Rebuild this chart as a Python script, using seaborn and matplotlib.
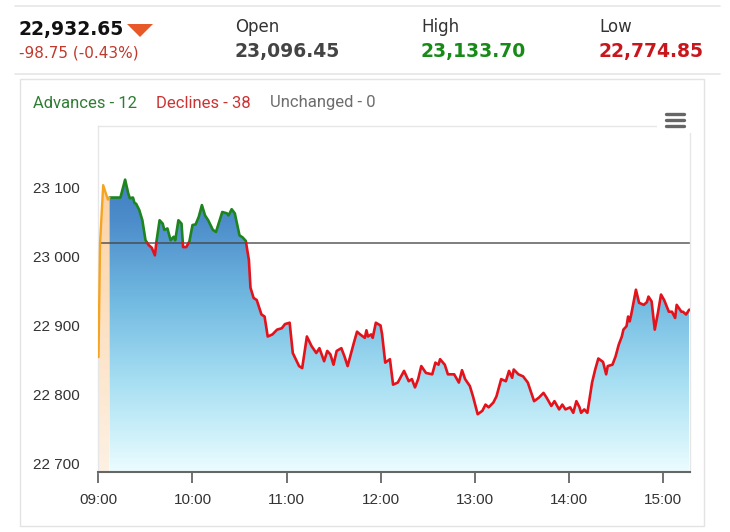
import numpy as np
import pandas as pd
import matplotlib.pyplot as plt
import seaborn as sns
from matplotlib.colors import LinearSegmentedColormap
from matplotlib.patches import Rectangle, Polygon
from matplotlib.lines import Line2D

# Cabecera
last_value = "22,932.65"
change_text = "-98.75 (-0.43%)"
stat_names = ["Open", "High", "Low"]
stat_values = ["23,096.45", "23,133.70", "22,774.85"]
breadth_labels = ["Advances - 12", "Declines - 38", "Unchanged - 0"]

prev_close = 23020

# Pre-apertura
preopen_times = ["09:00", "09:01", "09:03", "09:06", "09:07"]
preopen_values = [22854, 23020, 23104, 23083, 23086]

# Sesión
times = [
    "09:07", "09:14", "09:17", "09:19", "09:20", "09:22", "09:23", "09:24", "09:26", "09:28",
    "09:30", "09:32", "09:34", "09:36", "09:37", "09:39", "09:41", "09:42", "09:44", "09:46",
    "09:48", "09:49", "09:51", "09:53", "09:54", "09:56", "09:58", "10:00", "10:02", "10:04",
    "10:06", "10:08", "10:10", "10:13", "10:15", "10:19", "10:22", "10:23", "10:25", "10:27",
    "10:30", "10:32", "10:34", "10:36", "10:37", "10:39", "10:41", "10:44", "10:46", "10:48",
    "10:51", "10:54", "10:57", "10:59", "11:02", "11:04", "11:08", "11:10", "11:13", "11:16",
    "11:19", "11:21", "11:24", "11:26", "11:28", "11:30", "11:32", "11:35", "11:37", "11:39",
    "11:43", "11:45", "11:47", "11:50", "11:51", "11:52", "11:54", "11:55", "11:57", "12:00",
    "12:01", "12:03", "12:06", "12:08", "12:11", "12:15", "12:18", "12:20", "12:22", "12:24",
    "12:26", "12:29", "12:33", "12:35", "12:37", "12:38", "12:41", "12:43", "12:47", "12:50",
    "12:52", "12:54", "12:57", "12:59", "13:02", "13:05", "13:07", "13:09", "13:12", "13:14",
    "13:17", "13:20", "13:22", "13:24", "13:25", "13:28", "13:31", "13:34", "13:38", "13:41",
    "13:44", "13:46", "13:49", "13:51", "13:54", "13:56", "13:58", "14:01", "14:03", "14:05",
    "14:07", "14:08", "14:10", "14:12", "14:15", "14:17", "14:19", "14:22", "14:24", "14:25",
    "14:28", "14:30", "14:32", "14:34", "14:35", "14:37", "14:38", "14:39", "14:40", "14:43",
    "14:45", "14:48", "14:50", "14:51", "14:53", "14:55", "14:57", "14:59", "15:01", "15:04",
    "15:06", "15:08", "15:09", "15:12", "15:13", "15:15", "15:17",
]
values = [
    23086, 23086, 23112, 23092, 23085, 23086, 23078, 23077, 23068, 23053,
    23024, 23017, 23013, 23002, 23022, 23053, 23048, 23039, 23041, 23024,
    23029, 23024, 23053, 23048, 23014, 23014, 23022, 23046, 23047, 23058,
    23075, 23060, 23053, 23039, 23036, 23065, 23063, 23060, 23069, 23063,
    23031, 23028, 23023, 22995, 22955, 22940, 22937, 22916, 22913, 22884,
    22887, 22894, 22896, 22902, 22904, 22860, 22841, 22838, 22884, 22870,
    22860, 22867, 22848, 22863, 22858, 22843, 22863, 22867, 22855, 22841,
    22875, 22891, 22887, 22882, 22893, 22884, 22887, 22882, 22904, 22900,
    22887, 22846, 22851, 22814, 22817, 22834, 22819, 22822, 22810, 22822,
    22841, 22831, 22829, 22846, 22843, 22851, 22843, 22829, 22829, 22817,
    22835, 22822, 22812, 22797, 22771, 22776, 22785, 22781, 22788, 22797,
    22822, 22819, 22834, 22824, 22836, 22829, 22826, 22817, 22790, 22795,
    22802, 22795, 22783, 22790, 22778, 22785, 22778, 22781, 22773, 22790,
    22781, 22773, 22778, 22773, 22817, 22836, 22852, 22847, 22829, 22841,
    22843, 22855, 22872, 22884, 22894, 22899, 22913, 22906, 22916, 22952,
    22933, 22930, 22934, 22942, 22935, 22894, 22918, 22945, 22937, 22920,
    22920, 22911, 22930, 22920, 22920, 22916, 22923,
]

xtick_labels = ["09:00", "10:00", "11:00", "12:00", "13:00", "14:00", "15:00"]
ytick_values = [22700, 22800, 22900, 23000, 23100]
ytick_labels = ["22 700", "22 800", "22 900", "23 000", "23 100"]

W, H = 730, 532
GREEN, RED, ORANGE = "#1e841e", "#e3121b", "#f5a422"


def to_min(s):
    h, m = s.split(":")
    return (int(h) - 9) * 60 + int(m)


def fx(x):
    return x / W


def fy(y):
    return 1 - y / H


def gradient_fill(ax, x, y, y0, colors, vmin, vmax):
    poly = ax.fill_between(x, y, y0, facecolor="none", edgecolor="none")
    cmap = LinearSegmentedColormap.from_list("g", colors)
    grad = np.linspace(0, 1, 256).reshape(-1, 1)
    im = ax.imshow(grad, extent=[min(x), max(x), vmin, vmax], origin="lower",
                   aspect="auto", cmap=cmap, zorder=1, interpolation="bilinear")
    im.set_clip_path(poly.get_paths()[0], transform=ax.transData)


sns.set_style("white")
plt.rcParams["font.family"] = ["Liberation Sans", "DejaVu Sans"]

fig = plt.figure(figsize=(W / 100, H / 100), dpi=100)
ax = fig.add_axes([fx(97.7), fy(472), fx(690) - fx(97.7), fy(126) - fy(472)])

xmin, xmax = -0.5, 377.5
ymin, ymax = 22687, 23190

t = np.array([to_min(s) for s in times], float)
v = np.array(values, float)
pt = np.array([to_min(s) for s in preopen_times], float)
pv = np.array(preopen_values, float)

# Rellenos con degradado
gradient_fill(ax, pt, pv, ymin, [(0, "#fdf1e4"), (1, "#fcd2a3")], ymin, 23110)
gradient_fill(ax, t, v, ymin,
              [(0, "#ecfcfe"), (0.10, "#d4f3fb"), (0.31, "#a6def2"),
               (0.58, "#72bae1"), (0.85, "#4d8dcb"), (1, "#3f7fc2")],
              ymin, 23115)

# Línea de cierre anterior
ax.axhline(prev_close, color="#444444", alpha=0.75, lw=1.3, zorder=2)

# Línea verde / roja según cierre anterior
tt, vv = [t[0]], [v[0]]
for i in range(1, len(t)):
    a, b = v[i - 1] - prev_close, v[i] - prev_close
    if a * b < 0:
        f = a / (a - b)
        tt.append(t[i - 1] + f * (t[i] - t[i - 1]))
        vv.append(prev_close)
    tt.append(t[i])
    vv.append(v[i])
line_df = pd.DataFrame({"t": tt, "v": vv})

for up, color in [(True, GREEN), (False, RED)]:
    mask = line_df["v"] >= prev_close if up else line_df["v"] <= prev_close
    seg = (mask != mask.shift()).cumsum()
    sub = line_df[mask].assign(seg=seg[mask])
    sns.lineplot(data=sub, x="t", y="v", units="seg", estimator=None, sort=False,
                 color=color, lw=1.9, ax=ax, legend=False, zorder=3,
                 solid_joinstyle="round", solid_capstyle="round")

sns.lineplot(x=pt, y=pv, color=ORANGE, lw=1.7, ax=ax, sort=False, zorder=3,
             solid_joinstyle="round")

ax.set_xlim(xmin, xmax)
ax.set_ylim(ymin, ymax)
ax.set_xlabel("")
ax.set_ylabel("")
ax.set_xticks([to_min(s) for s in xtick_labels])
ax.set_xticklabels(xtick_labels)
ax.set_yticks(ytick_values)
ax.set_yticklabels(ytick_labels)
ax.tick_params(axis="x", length=8, width=1.3, color="#666666", pad=7,
               labelsize=11, labelcolor="#333333", bottom=True)
ax.tick_params(axis="y", length=0, pad=13, labelsize=11, labelcolor="#333333")
for s in ["left", "top", "right"]:
    ax.spines[s].set_color("#e6e6e6")
    ax.spines[s].set_linewidth(1)
ax.spines["bottom"].set_color("#666666")
ax.spines["bottom"].set_linewidth(1.5)
ax.grid(False)

# Separadores y panel
for yy in [6, 74]:
    fig.add_artist(Line2D([fx(15), fx(720)], [fy(yy), fy(yy)], color="#e6e6e6", lw=1.2))
fig.add_artist(Rectangle((fx(20), fy(526)), fx(704) - fx(20), fy(79) - fy(526),
                         fill=False, edgecolor="#e3e3e3", lw=1))

# Cabecera
fig.text(fx(19), fy(30), last_value, fontsize=13.5, fontweight="bold",
         color="#111111", va="center", family="DejaVu Sans")
fig.add_artist(Polygon([(fx(127), fy(24)), (fx(153), fy(24)), (fx(140), fy(37))],
                       closed=True, color="#e8592a", lw=0))
fig.text(fx(19), fy(53), change_text, fontsize=11, color="#c0392b",
         va="center", family="DejaVu Sans")
stat_colors = ["#444444", "#178a17", "#c8161d"]
for x, name, val, col in zip([235, 421, 599], stat_names, stat_values, stat_colors):
    fig.text(fx(x), fy(27), name, fontsize=12, color="#333333", va="center",
             family="DejaVu Sans")
    fig.text(fx(x), fy(52), val, fontsize=13.5, fontweight="bold", color=col,
             va="center", family="DejaVu Sans")

# Advances / Declines / Unchanged
for x, lab, col in zip([33, 156, 270], breadth_labels, ["#2f7d32", "#cc3333", "#6d6d6d"]):
    fig.text(fx(x), fy(103), lab, fontsize=12, color=col, va="center", family="Roboto")

# Menú
fig.add_artist(Rectangle((fx(657), fy(133)), fx(700) - fx(657), fy(100) - fy(133),
                         facecolor="white", edgecolor="none"))
for yy in [113.5, 119.5, 125.5]:
    fig.add_artist(Line2D([fx(666), fx(684)], [fy(yy), fy(yy)], color="#666666",
                          lw=2.4, solid_capstyle="round"))

fig.savefig("out.png", dpi=100)
